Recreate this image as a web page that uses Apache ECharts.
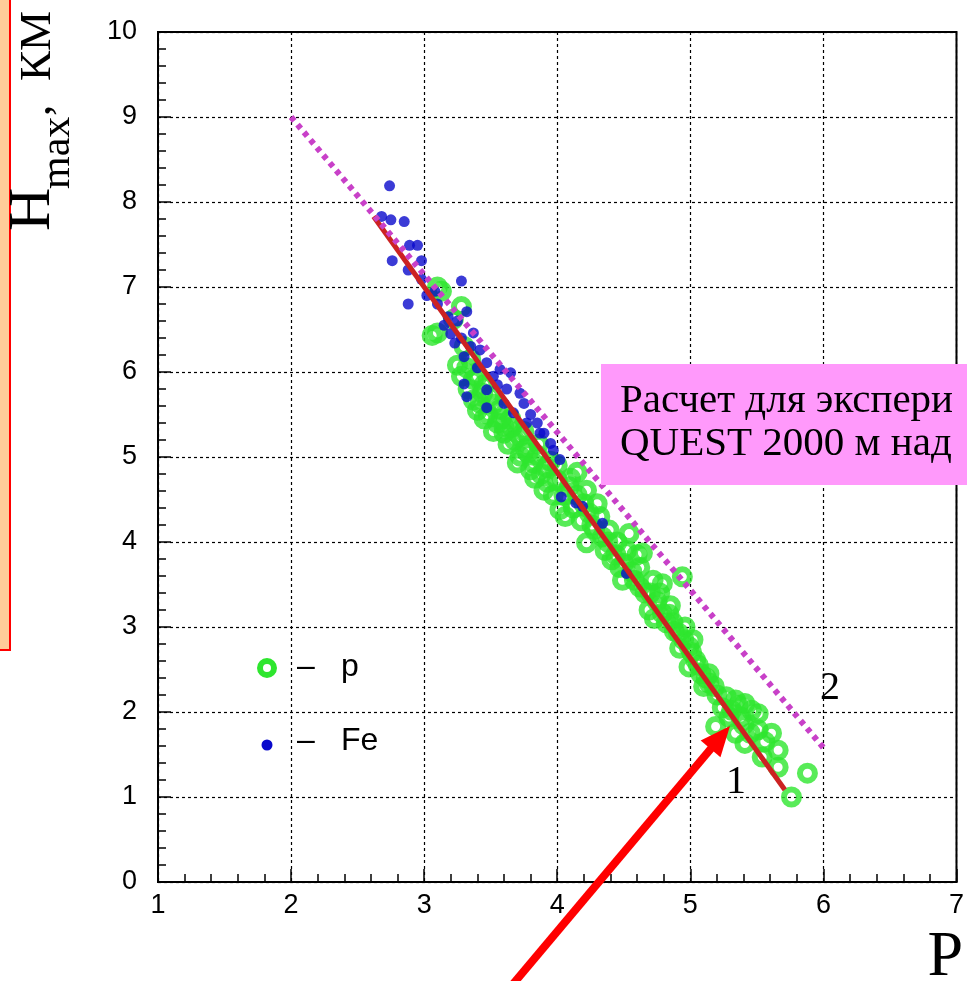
<!DOCTYPE html>
<html>
<head>
<meta charset="utf-8">
<script src="https://cdn.jsdelivr.net/npm/echarts@6/dist/echarts.min.js"></script>
<style>
html, body { margin: 0; padding: 0; background: #fff; }
#chart { width: 967px; height: 981px; }
</style>
</head>
<body>
<div id="chart"></div>
<script>
// оси
const xRange = [1, 7];
const yRange = [0, 10];

// протоны (p) — зеленые кружки
const pPoints = [
    [3.10, 7.00], [3.13, 6.95], [3.10, 6.46], [3.06, 6.43], [3.28, 6.77], [3.22, 6.62], [3.30, 6.30],
    [3.28, 5.95], [3.25, 6.08], [3.35, 6.15], [3.37, 5.91], [3.33, 5.80], [3.42, 5.63], [3.37, 5.67],
    [3.45, 5.85], [3.50, 5.72], [3.48, 5.50], [3.57, 5.56], [3.55, 5.40], [3.60, 5.36], [3.60, 5.28],
    [3.65, 5.45], [3.68, 5.20], [3.72, 5.24], [3.72, 5.01], [3.70, 4.93], [3.76, 5.10], [3.80, 4.85],
    [3.82, 4.93], [3.85, 5.02], [3.88, 4.80], [3.90, 4.61], [3.93, 4.70], [3.95, 4.95], [4.00, 4.73],
    [4.02, 4.38], [4.05, 4.55], [4.09, 4.65], [4.12, 4.40], [4.15, 4.82], [4.18, 4.25], [4.22, 4.61],
    [4.24, 4.34], [4.22, 3.99], [4.28, 4.15], [4.30, 4.45], [4.34, 4.06], [4.39, 4.14], [4.36, 3.90],
    [4.41, 3.79], [4.45, 4.00], [4.49, 3.55], [4.50, 3.75], [4.54, 4.10], [4.56, 3.65], [4.60, 3.85],
    [4.64, 3.87], [4.62, 3.47], [4.66, 3.40], [4.69, 3.20], [4.72, 3.55], [4.75, 3.30], [4.79, 3.51],
    [4.79, 3.16], [4.82, 3.05], [4.85, 3.25], [4.88, 2.95], [4.91, 2.93], [4.94, 3.59], [4.95, 2.85],
    [4.99, 2.77], [4.99, 2.53], [5.04, 2.61], [5.01, 2.70], [5.08, 2.45], [5.14, 2.45], [5.14, 2.34],
    [5.10, 2.30], [5.20, 2.20], [5.19, 1.83], [5.29, 1.94], [5.31, 2.02], [5.34, 2.14], [5.34, 1.75],
    [5.38, 1.94], [5.36, 2.08], [5.41, 2.10], [5.46, 2.02], [5.41, 1.63], [5.51, 1.98], [5.51, 1.79],
    [5.54, 1.47], [5.61, 1.75], [5.66, 1.55], [5.66, 1.35], [5.76, 1.00], [5.88, 1.28],
    [3.32, 6.05], [3.40, 5.95], [3.44, 5.75], [3.52, 5.62], [3.58, 5.45], [3.63, 5.15], [3.66, 5.35],
    [3.75, 5.30], [3.78, 5.05], [3.83, 4.75], [3.86, 5.15], [3.92, 4.88], [3.97, 4.55], [4.00, 4.90],
    [4.06, 4.30], [4.10, 4.75], [4.15, 4.55], [4.20, 4.45], [4.26, 4.20], [4.32, 4.30], [4.38, 4.00],
    [4.44, 3.85], [4.47, 3.70], [4.52, 3.90], [4.58, 3.55], [4.62, 3.70], [4.70, 3.40], [4.73, 3.10],
    [4.77, 3.40], [4.84, 3.15], [4.87, 3.05], [4.92, 2.75], [4.96, 3.00], [5.02, 2.85], [5.06, 2.55],
    [5.12, 2.40], [5.18, 2.30], [5.24, 2.05], [5.27, 2.18], [5.40, 1.85], [5.45, 1.75], [5.56, 1.65],
    [3.52, 5.30], [3.45, 5.45], [3.40, 5.55]
];

// ядра железа (Fe) — синие точки
const fePoints = [
    [2.74, 8.19], [2.68, 7.83], [2.75, 7.79], [2.85, 7.77], [2.89, 7.49], [2.95, 7.49], [2.76, 7.31],
    [2.98, 7.31], [2.88, 7.20], [2.98, 7.09], [3.28, 7.07], [2.88, 6.80], [3.08, 6.95], [3.02, 6.90],
    [3.10, 6.80], [3.18, 6.65], [3.15, 6.55], [3.32, 6.71], [3.25, 6.60], [3.20, 6.45], [3.37, 6.46],
    [3.28, 6.40], [3.23, 6.34], [3.30, 6.18], [3.42, 6.26], [3.35, 6.30], [3.47, 6.11], [3.40, 6.05],
    [3.57, 6.03], [3.65, 5.99], [3.52, 5.95], [3.30, 5.86], [3.32, 5.71], [3.47, 5.79], [3.47, 5.58],
    [3.55, 5.85], [3.62, 5.80], [3.60, 5.63], [3.67, 5.52], [3.72, 5.75], [3.75, 5.63], [3.77, 5.40],
    [3.80, 5.50], [3.85, 5.40], [3.87, 5.28], [3.90, 5.28], [3.95, 5.16], [3.97, 5.08], [4.02, 4.97],
    [4.03, 4.53], [4.14, 4.46], [4.19, 4.42], [4.34, 4.22], [4.52, 3.63]
];

// линия 1 (аппроксимация) и линия 2 (расчет)
const fitLine = [[2.62, 7.83], [5.71, 1.085]];
const calcLine = [[2.0, 9.0], [6.0, 1.58]];
// стрелка: начало за нижним краем, конец древка у наконечника
const arrowLine = [[3.625, -1.28], [5.225, 1.70]];

const serif = '"Liberation Serif", "Times New Roman", serif';
const sans = '"Liberation Sans", Arial, sans-serif';

const chart = echarts.init(document.getElementById('chart'));

const option = {
    animation: false,
    backgroundColor: '#fff',
    grid: {
        left: 158,
        right: 1,
        top: 32,
        bottom: 99,
        show: true,
        borderColor: '#000',
        borderWidth: 2,
        backgroundColor: 'transparent'
    },
    xAxis: {
        type: 'value',
        min: xRange[0],
        max: xRange[1],
        interval: 1,
        axisLine: { show: true, lineStyle: { color: '#000', width: 2 } },
        axisTick: { show: true, inside: true, length: 13, lineStyle: { color: '#000', width: 1.5 } },
        minorTick: { show: true, splitNumber: 5, length: 8, lineStyle: { color: '#000', width: 1.5 } },
        splitLine: { show: true, lineStyle: { color: '#000', width: 1.2, type: [3, 3] } },
        axisLabel: { color: '#000', fontFamily: sans, fontSize: 27, margin: 10 }
    },
    yAxis: {
        type: 'value',
        min: yRange[0],
        max: yRange[1],
        interval: 1,
        axisLine: { show: true, lineStyle: { color: '#000', width: 2 } },
        axisTick: { show: true, inside: true, length: 13, lineStyle: { color: '#000', width: 1.5 } },
        minorTick: { show: true, splitNumber: 5, length: 8, lineStyle: { color: '#000', width: 1.5 } },
        splitLine: { show: true, lineStyle: { color: '#000', width: 1.2, type: [3, 3] } },
        axisLabel: { color: '#000', fontFamily: sans, fontSize: 27, margin: 21 }
    },
    series: [
        {
            name: 'p',
            type: 'scatter',
            data: pPoints,
            symbol: 'circle',
            symbolSize: 15,
            itemStyle: { color: 'rgba(255,255,255,0)', borderColor: '#2ee62e', borderWidth: 6 }
        },
        {
            name: 'Fe',
            type: 'scatter',
            data: fePoints,
            symbol: 'circle',
            symbolSize: 11,
            itemStyle: { color: '#0a0acc' }
        },
        {
            name: '1',
            type: 'line',
            data: fitLine,
            symbol: 'none',
            lineStyle: { color: '#cc2222', width: 5 }
        },
        {
            name: '2',
            type: 'line',
            data: calcLine,
            symbol: 'none',
            lineStyle: { color: '#c840c8', width: 6, type: [5, 5] }
        },
        {
            name: 'arrow',
            type: 'line',
            clip: false,
            silent: true,
            z: 20,
            symbol: 'none',
            showSymbol: true,
            itemStyle: { color: '#ff0000' },
            lineStyle: { color: '#ff0000', width: 8 },
            data: [
                arrowLine[0],
                { value: arrowLine[1], symbol: 'triangle', symbolSize: [26, 30], symbolRotate: -40.4 }
            ]
        }
    ],
    graphic: [
        // левая плашка
        {
            type: 'rect', z: 100,
            shape: { x: -3, y: -3, width: 13, height: 653 },
            style: { fill: '#ffcc99', stroke: '#ff0000', lineWidth: 2 }
        },
        // подпись оси Y
        {
            type: 'text', z: 100, x: 33, y: 231, rotation: Math.PI / 2,
            style: { text: 'H', font: '60px ' + serif, fill: '#000', align: 'left', verticalAlign: 'middle' }
        },
        {
            type: 'text', z: 100, x: 58, y: 189, rotation: Math.PI / 2,
            style: { text: 'max', font: '42px ' + serif, fill: '#000', align: 'left', verticalAlign: 'middle' }
        },
        {
            type: 'text', z: 100, x: 38, y: 116, rotation: Math.PI / 2,
            style: { text: ',', font: '45px ' + serif, fill: '#000', align: 'left', verticalAlign: 'middle' }
        },
        {
            type: 'text', z: 100, x: 38, y: 81, rotation: Math.PI / 2,
            style: { text: 'КМ', font: '45px ' + serif, fill: '#000', align: 'left', verticalAlign: 'middle' }
        },
        // подпись оси X
        {
            type: 'text', z: 100, x: 963, y: 958,
            style: { text: 'P', font: '64px ' + serif, fill: '#000', align: 'right', verticalAlign: 'middle' }
        },
        // розовая плашка
        {
            type: 'rect', z: 100,
            shape: { x: 601, y: 364, width: 380, height: 121 },
            style: { fill: '#ff99fb' }
        },
        {
            type: 'text', z: 101, x: 620, y: 401,
            style: { text: 'Расчет для экспери', font: '41px ' + serif, fill: '#000', align: 'left', verticalAlign: 'middle' }
        },
        {
            type: 'text', z: 101, x: 620, y: 444,
            style: { text: 'QUEST 2000 м над', font: '41px ' + serif, fill: '#000', align: 'left', verticalAlign: 'middle' }
        },
        // номера линий
        {
            type: 'text', z: 100, x: 736, y: 782,
            style: { text: '1', font: '40px ' + serif, fill: '#000', align: 'center', verticalAlign: 'middle' }
        },
        {
            type: 'text', z: 100, x: 830, y: 688,
            style: { text: '2', font: '40px ' + serif, fill: '#000', align: 'center', verticalAlign: 'middle' }
        },
        // легенда
        {
            type: 'circle', z: 100,
            shape: { cx: 267, cy: 668, r: 7 },
            style: { fill: 'rgba(255,255,255,0)', stroke: '#2ee62e', lineWidth: 6 }
        },
        {
            type: 'text', z: 100, x: 297, y: 667,
            style: { text: '–', font: '32px ' + sans, fill: '#000', align: 'left', verticalAlign: 'middle' }
        },
        {
            type: 'text', z: 100, x: 341, y: 667,
            style: { text: 'p', font: '32px ' + sans, fill: '#000', align: 'left', verticalAlign: 'middle' }
        },
        {
            type: 'circle', z: 100,
            shape: { cx: 267, cy: 745, r: 5.5 },
            style: { fill: '#0a0acc' }
        },
        {
            type: 'text', z: 100, x: 297, y: 741,
            style: { text: '–', font: '32px ' + sans, fill: '#000', align: 'left', verticalAlign: 'middle' }
        },
        {
            type: 'text', z: 100, x: 341, y: 741,
            style: { text: 'Fe', font: '32px ' + sans, fill: '#000', align: 'left', verticalAlign: 'middle' }
        }
    ]
};

chart.setOption(option);
</script>
</body>
</html>
